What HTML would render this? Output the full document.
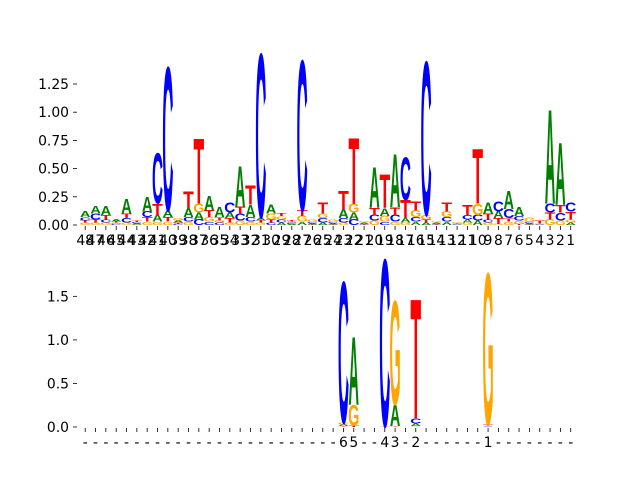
<!DOCTYPE html>
<html><head><meta charset="utf-8"><style>
html,body{margin:0;padding:0;background:#fff;}
svg{display:block;}
text.tk{font-family:"DejaVu Sans","Liberation Sans",sans-serif;font-size:13.9px;fill:#000;}
</style></head><body>
<svg id="chart" width="640" height="480" viewBox="0 0 640 480">
<g id="top"></g>
<g id="bot"></g>
</svg>
<script>
const topLabels = [];
for (let k = 48; k >= 1; k--) topLabels.push(String(k));
const topA = [.05,.07,.08,.02,.13,.01,.13,.06,.06,.02,.08,.06,.13,.09,.05,.36,.11,.03,.08,.02,.01,.03,.01,.02,.01,.08,.06,.01,.36,.07,.47,.04,.03,.02,.01,.03,.005,.03,.04,.1,.06,.16,.08,.01,.005,.84,.55,.02];
const topC = [.03,.05,.03,.01,.04,.01,.05,.45,1.28,.01,.04,.05,.03,.02,.09,.06,.04,1.46,.02,.03,.01,1.34,.01,.04,.01,.04,.05,.005,.05,.03,.06,.38,.04,1.37,.005,.04,.005,.04,.05,.03,.09,.08,.04,.01,.005,.08,.07,.08];
const topG = [.02,.02,.02,.01,.02,.005,.03,.03,.03,.02,.03,.08,.04,.02,.02,.04,.03,.02,.05,.03,.01,.05,.02,.04,.02,.02,.08,.01,.04,.05,.03,.02,.06,.04,.01,.05,.01,.02,.1,.02,.01,.03,.03,.04,.005,.05,.04,.03];
const topT = [.02,.03,.04,.01,.04,.01,.04,.1,.04,.01,.15,.58,.06,.03,.04,.06,.17,.02,.03,.03,.01,.05,.005,.1,.005,.16,.59,.005,.06,.3,.07,.16,.08,.03,.005,.08,.005,.09,.49,.05,.05,.03,.01,.005,.03,.06,.07,.07];
const topYTicks = [0,0.25,0.5,0.75,1.0,1.25];
const topYLabels = ["0.00","0.25","0.50","0.75","1.00","1.25"];

const botLabels = ["-","-","-","-","-","-","-","-","-","-","-","-","-","-","-","-","-","-","-","-","-","-","-","-","-","6","5","-","-","4","3","-","2","-","-","-","-","-","-","1","-","-","-","-","-","-","-","-"];
const botA = Array(48).fill(0), botC = Array(48).fill(0), botG = Array(48).fill(0), botT = Array(48).fill(0);
botT[25]=.01; botG[25]=.02; botA[25]=.02; botC[25]=1.63;
botT[26]=.02; botG[26]=.24; botA[26]=.78;
botT[29]=.01; botC[29]=1.93;
botT[30]=.01; botA[30]=.25; botG[30]=1.2;
botG[32]=.01; botA[32]=.03; botC[32]=.06; botT[32]=1.38;
botC[39]=.01; botT[39]=.02; botG[39]=1.75;
const botYTicks = [0,0.5,1.0,1.5];
const botYLabels = ["0.0","0.5","1.0","1.5"];

const NS = "http://www.w3.org/2000/svg";
const COL = {A:"#008000", C:"#0000ff", G:"#ffa500", T:"#ff0000"};
const ADV = {A:0.70, C:0.66, G:0.70, T:0.58};

function mk(parent, tag, attrs) {
  const e = document.createElementNS(NS, tag);
  for (const k in attrs) e.setAttribute(k, attrs[k]);
  parent.appendChild(e);
  return e;
}

function drawPanel(g, cfg) {
  const xs = i => cfg.x0 + cfg.dx * i;
  const ys = v => cfg.y0 - cfg.k * v;
  const w = cfg.dx * 0.98;
  for (let i = 0; i < cfg.labels.length; i++) {
    const vals = [["A", cfg.A[i]], ["C", cfg.C[i]], ["G", cfg.G[i]], ["T", cfg.T[i]]].filter(d => d[1] > 0);
    vals.sort((a, b) => a[1] - b[1]);
    let acc = 0;
    for (const [L, v] of vals) {
      const yb = ys(acc), yt = ys(acc + v);
      const h = yb - yt;
      const sx = w / (ADV[L] * 100), sy = h / 70;
      const t = mk(g, "text", {
        x: 0, y: 0, "font-size": 100, "font-weight": "bold", "text-anchor": "middle",
        "font-family": "'Liberation Sans', Arial, sans-serif", fill: COL[L],
        transform: `translate(${xs(i)},${yb}) scale(${sx},${sy})`
      });
      t.textContent = L;
      
      
      acc += v;
    }
    const tk = mk(g, "line", {x1: xs(i), x2: xs(i), y1: cfg.y0 + 1, y2: cfg.y0 + 5, stroke: "#000", "stroke-width": 0.8});
    
    
    const lb = mk(g, "text", {x: xs(i), y: cfg.y0 + 20, "text-anchor": "middle", class: "tk"});
    lb.textContent = cfg.labels[i];
    
    
  }
  for (let j = 0; j < cfg.yt.length; j++) {
    const y = ys(cfg.yt[j]);
    const tk = mk(g, "line", {x1: 73, x2: 77, y1: y, y2: y, stroke: "#000", "stroke-width": 0.8});
    
    
    const lb = mk(g, "text", {x: 69, y: y + 5, "text-anchor": "end", class: "tk"});
    lb.textContent = cfg.yl[j];
    
    
  }
}

drawPanel(document.getElementById("top"), {x0: 85.2, dx: 10.33, y0: 225, k: 112.8,
  labels: topLabels, A: topA, C: topC, G: topG, T: topT, yt: topYTicks, yl: topYLabels});
drawPanel(document.getElementById("bot"), {x0: 85.2, dx: 10.33, y0: 427, k: 87.1,
  labels: botLabels, A: botA, C: botC, G: botG, T: botT, yt: botYTicks, yl: botYLabels});
</script>
</body></html>
